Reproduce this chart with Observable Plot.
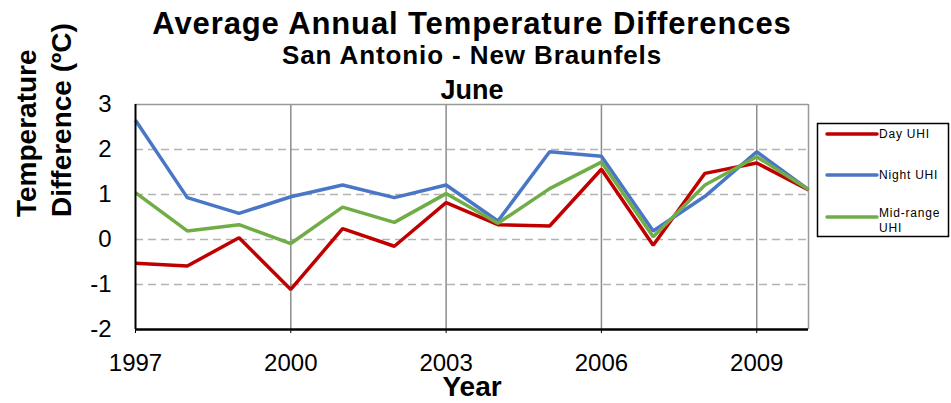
<!DOCTYPE html>
<html>
<head>
<meta charset="utf-8">
<script src="https://cdn.jsdelivr.net/npm/d3@7"></script>
<script src="https://cdn.jsdelivr.net/npm/@observablehq/plot@0.6"></script>
<style>
  html, body { margin: 0; padding: 0; background: #fff; }
  #chart { width: 951px; height: 403px; }
  .wide text { letter-spacing: 0.9px; }
</style>
</head>
<body>
<div id="chart"></div>
<script>
const years = [1997, 1998, 1999, 2000, 2001, 2002, 2003, 2004, 2005, 2006, 2007, 2008, 2009, 2010];
const dayUHI   = [-0.53, -0.59, 0.04, -1.11, 0.24, -0.15, 0.82, 0.33, 0.30, 1.56, -0.13, 1.47, 1.70, 1.10];
const nightUHI = [2.65, 0.93, 0.58, 0.95, 1.21, 0.93, 1.21, 0.41, 1.95, 1.85, 0.19, 0.96, 1.95, 1.11];
const midUHI   = [1.04, 0.19, 0.33, -0.09, 0.72, 0.38, 1.02, 0.36, 1.13, 1.72, 0.06, 1.21, 1.84, 1.11];
const seriesNames = ["Day UHI", "Night UHI", "Mid-range UHI"];
const seriesColors = ["#c00000", "#4a76c6", "#70ad47"];
const xTicks = [1997, 2000, 2003, 2006, 2009];
const yTicks = [-2, -1, 0, 1, 2, 3];
const title = "Average Annual Temperature Differences";
const subtitle = "San Antonio - New Braunfels";
const month = "June";
const yLabel1 = "Temperature";
const yLabel2 = "Difference (ºC)";
const xLabel = "Year";

const seriesValues = [dayUHI, nightUHI, midUHI];
const rows = [];
seriesNames.forEach((name, s) => {
  years.forEach((yr, i) => rows.push({series: name, year: yr, value: seriesValues[s][i]}));
});

const font = "'Liberation Sans', Arial, sans-serif";

const plot = Plot.plot({
  width: 951,
  height: 403,
  marginTop: 104,
  marginBottom: 74,
  marginLeft: 135,
  marginRight: 143,
  style: {fontFamily: font, fontSize: "24px", color: "#000", background: "#fff"},
  x: {domain: [1997, 2010], ticks: xTicks, tickFormat: d => String(d), label: null},
  y: {domain: [-2, 3], ticks: yTicks, tickFormat: d => String(d), label: null},
  color: {domain: seriesNames, range: seriesColors},
  marks: [
    Plot.gridY([-1, 0, 1, 2], {stroke: "#b3b3b3", strokeOpacity: 1, strokeWidth: 1.5, strokeDasharray: "8,5"}),
    Plot.gridX([2000, 2003, 2006, 2009], {stroke: "#8c8c8c", strokeOpacity: 1, strokeWidth: 1.5}),
    Plot.ruleY([3], {stroke: "#999", strokeWidth: 1.5}),
    Plot.ruleX([2010], {stroke: "#999", strokeWidth: 1.5}),
    Plot.lineY(rows, {x: "year", y: "value", z: "series", stroke: "series", strokeWidth: 3.5, strokeLinejoin: "miter", strokeLinecap: "butt"}),
    Plot.ruleX([1997], {stroke: "#000", strokeWidth: 2}),
    Plot.ruleY([-2], {stroke: "#000", strokeWidth: 2.5}),
    Plot.axisX({ticks: xTicks, tickFormat: d => String(d), tickSize: 4, tickPadding: 20, fontSize: 24, label: null}),
    Plot.axisY({ticks: yTicks, tickFormat: d => String(d), tickSize: 0, tickPadding: 24, fontSize: 24, label: null}),
    Plot.text([title], {text: d => d, frameAnchor: "top", lineAnchor: "middle", dy: -80, fontSize: 31, fontWeight: "bold", className: "wide"}),
    Plot.text([subtitle], {text: d => d, frameAnchor: "top", lineAnchor: "middle", dy: -49, fontSize: 26, fontWeight: "bold", className: "wide"}),
    Plot.text([month], {text: d => d, frameAnchor: "top", lineAnchor: "middle", dy: -14, fontSize: 27, fontWeight: "bold"}),
    Plot.text([xLabel], {text: d => d, frameAnchor: "bottom", lineAnchor: "middle", dy: 58, fontSize: 28, fontWeight: "bold"}),
    Plot.text([yLabel1], {text: d => d, frameAnchor: "left", lineAnchor: "middle", rotate: -90, dx: -108, fontSize: 28, fontWeight: "bold"}),
    Plot.text([yLabel2], {text: d => d, frameAnchor: "left", lineAnchor: "middle", rotate: -90, dx: -73, fontSize: 28, fontWeight: "bold"})
  ]
});

document.getElementById("chart").appendChild(plot);

// Legend
const svg = d3.select(plot);
const lg = svg.append("g").attr("font-family", font).attr("font-size", 12)
  .attr("letter-spacing", "0.8px").attr("text-anchor", "start");
lg.append("rect").attr("x", 817.5).attr("y", 123.5).attr("width", 131).attr("height", 113)
  .attr("fill", "#fff").attr("stroke", "#000").attr("stroke-width", 1.5);
const legendRows = [
  {lines: ["Day UHI"], y: 134},
  {lines: ["Night UHI"], y: 175},
  {lines: ["Mid-range", "UHI"], y: 217}
];
legendRows.forEach((r, i) => {
  lg.append("line").attr("x1", 827).attr("x2", 877).attr("y1", r.y).attr("y2", r.y)
    .attr("stroke", seriesColors[i]).attr("stroke-width", 3.5).attr("stroke-linecap", "round");
  r.lines.forEach((t, k) => {
    lg.append("text").attr("x", 879).attr("y", r.y - (r.lines.length > 1 ? 4 : 0) + k * 15)
      .attr("dy", "0.35em").attr("fill", "#000").attr("text-anchor", "start").text(t);
  });
});
</script>
</body>
</html>
